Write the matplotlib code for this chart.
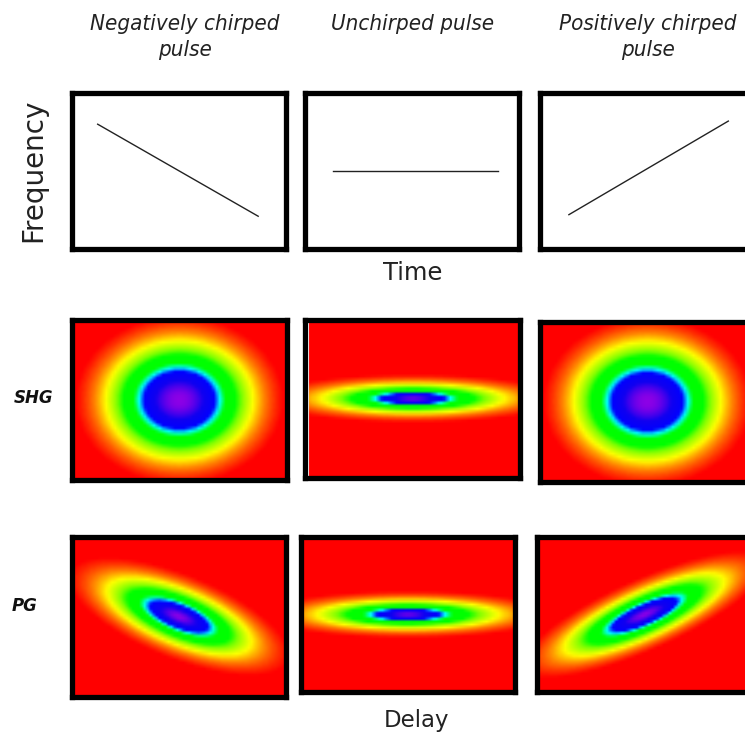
import numpy as np
import matplotlib.pyplot as plt
from matplotlib.colors import LinearSegmentedColormap

# column titles
titles = ["Negatively chirped\npulse", "Unchirped pulse", "Positively chirped\npulse"]

# instantaneous frequency vs time (start / end points of each line)
time_pts = [[0.12, 0.87], [0.13, 0.90], [0.135, 0.88]]
freq_pts = [[0.80, 0.21], [0.50, 0.50], [0.22, 0.82]]

# trace ellipses: sigma along major axis, sigma along minor axis (px),
# tilt (deg) and profile exponent
shg_major = [48, 49, 48]
shg_minor = [39, 8, 39]
shg_tilt = [0, 0, 0]
shg_power = [2.0, 1.4, 2.0]
pg_major = [45, 49, 51]
pg_minor = [16, 8, 14]
pg_tilt = [-22, 0, 25]
pg_power = [1.6, 1.4, 1.6]

# rainbow map: red background -> violet peak
trace_cmap = LinearSegmentedColormap.from_list(
    "trace", [(0.0, "#ff0000"), (0.09, "#ff0000"), (0.20, "#ff8000"),
              (0.30, "#ffff00"), (0.42, "#80ff00"), (0.50, "#00ff00"),
              (0.63, "#00ff00"), (0.70, "#00ffff"), (0.76, "#0000ff"),
              (0.88, "#1000f0"), (1.0, "#8c00e6")])

fig = plt.figure(figsize=(7.45, 7.37), dpi=100)

def px_axes(x, y, w, h):
    return fig.add_axes([x / 745, 1 - (y + h) / 737, w / 745, h / 737])

def frame(ax):
    ax.set_xticks([])
    ax.set_yticks([])
    for s in ax.spines.values():
        s.set_linewidth(3.8)
        s.set_color("black")

def trace(major, minor, tilt, power):
    xx, yy = np.meshgrid(np.linspace(-107, 107, 72), np.linspace(-80, 80, 54))
    a = np.deg2rad(tilt)
    u = xx * np.cos(a) + yy * np.sin(a)
    v = -xx * np.sin(a) + yy * np.cos(a)
    r2 = (u / major) ** 2 + (v / minor) ** 2
    return np.exp(-0.5 * r2 ** (power / 2))

# top row: frequency vs time
top_x = [72, 305, 540]
for i in range(3):
    ax = px_axes(top_x[i], 93, 214, 156)
    ax.plot(time_pts[i], freq_pts[i], color="#222222", lw=1.0)
    ax.set_xlim(0, 1)
    ax.set_ylim(0, 1)
    frame(ax)

# SHG and PG traces
shg_x = [72, 305, 540]
shg_y = [320, 320, 322]
shg_h = [160, 158, 160]
pg_x = [72, 301, 537]
pg_y = [537, 537, 537]
pg_h = [160, 155, 155]
for i in range(3):
    ax = px_axes(shg_x[i], shg_y[i], 215, shg_h[i])
    ax.imshow(trace(shg_major[i], shg_minor[i], shg_tilt[i], shg_power[i]),
              cmap=trace_cmap, vmin=0, vmax=1, origin="lower", aspect="auto",
              interpolation="bilinear")
    if i == 1:
        ax.axvline(0.4, color="white", lw=1.5)
    frame(ax)

    ax = px_axes(pg_x[i], pg_y[i], 214, pg_h[i])
    ax.imshow(trace(pg_major[i], pg_minor[i], pg_tilt[i], pg_power[i]),
              cmap=trace_cmap, vmin=0, vmax=1, origin="lower", aspect="auto",
              interpolation="bilinear")
    frame(ax)

# titles and labels
title_x = [185, 413, 648]
for t, x in zip(titles, title_x):
    fig.text(x / 745, 1 - 14 / 737, t, ha="center", va="top", style="italic",
             family="DejaVu Sans", stretch="condensed", fontsize=16,
             color="#222222", linespacing=1.4)

fig.text(33 / 745, 1 - 170 / 737, "Frequency", rotation=90, ha="center", va="center",
         fontsize=20, color="#222222")
fig.text(413 / 745, 1 - 273 / 737, "Time", ha="center", va="center", fontsize=17.5,
         color="#222222")
fig.text(417 / 745, 1 - 720 / 737, "Delay", ha="center", va="center", fontsize=16.5,
         color="#222222")
fig.text(33 / 745, 1 - 398 / 737, "SHG", ha="center", va="center", fontsize=12,
         weight="bold", style="italic", color="#111111")
fig.text(25 / 745, 1 - 606 / 737, "PG", ha="center", va="center", fontsize=12,
         weight="bold", style="italic", color="#111111")

fig.savefig("out.png", dpi=100)
